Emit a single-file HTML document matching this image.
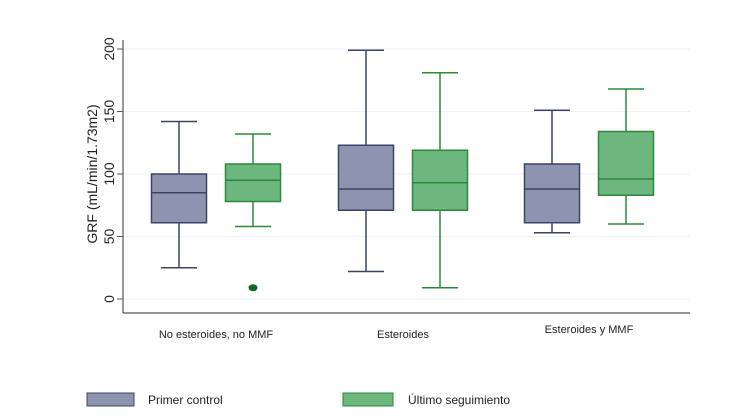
<!DOCTYPE html>
<html><head><meta charset="utf-8"><style>
body{margin:0;background:#fff;}
svg{display:block;font-family:"Liberation Sans",sans-serif;}
</style></head><body>
<svg width="737" height="420">
<g id="grid"></g><g id="plot"></g>
<text transform="translate(97,174) rotate(-90)" text-anchor="middle" font-size="14" fill="#222">GRF (mL/min/1.73m2)</text>
<rect x="87" y="393" width="47" height="13" fill="#8e93b0" stroke="#3c4466"/>
<text x="148" y="404" font-size="12" fill="#222">Primer control</text>
<rect x="343" y="393" width="50" height="13" fill="#6db77f" stroke="#2a8a3a"/>
<text x="408" y="404" font-size="12" fill="#222">Último seguimiento</text>
</svg>
<script>
const categories=["No esteroides, no MMF","Esteroides","Esteroides y MMF"];
const primerStats=[[25,61,85,100,142],[22,71,88,123,199],[53,61,88,108,151]];
const ultimoStats=[[58,78,95,108,132],[9,71,93,119,181],[60,83,96,134,168]];
const ultimoOutliers=[[9],[],[]];
const yTicks=[0,50,100,150,200];
const NS="http://www.w3.org/2000/svg";
const svg=document.querySelector('svg'),grid=document.getElementById('grid'),plot=document.getElementById('plot');
function y(v){return 299-v*1.25;}
const groupCenter=[216,403,589];
function mk(tag,attrs,parent){const e=document.createElementNS(NS,tag);for(const k in attrs)e.setAttribute(k,attrs[k]);parent.appendChild(e);return e;}
yTicks.forEach(t=>{
  const g=mk('line',{x1:123,x2:690,y1:y(t),y2:y(t),stroke:'#eef0f3','stroke-width':1},grid);
  
  
  const tk=mk('line',{x1:117,x2:123,y1:y(t),y2:y(t),stroke:'#555'},grid);
  
  
  const tx=mk('text',{transform:`translate(114,${y(t)}) rotate(-90)`,'text-anchor':'middle','font-size':14,fill:'#222'},grid);
  tx.textContent=t;
  
  
});
const ax=mk('line',{x1:123,x2:123,y1:40,y2:313,stroke:'#555','stroke-width':1.2},grid);


const bx=mk('line',{x1:123,x2:690,y1:313,y2:313,stroke:'#555','stroke-width':1.2},grid);


function box(cx,s,fill,stroke,name){
  const g=mk('g',{},plot);
  
  
  const w=55,c=18;
  mk('line',{x1:cx,x2:cx,y1:y(s[4]),y2:y(s[3]),stroke:stroke,'stroke-width':1.5},g);
  mk('line',{x1:cx,x2:cx,y1:y(s[1]),y2:y(s[0]),stroke:stroke,'stroke-width':1.5},g);
  mk('line',{x1:cx-c,x2:cx+c,y1:y(s[4]),y2:y(s[4]),stroke:stroke,'stroke-width':1.5},g);
  mk('line',{x1:cx-c,x2:cx+c,y1:y(s[0]),y2:y(s[0]),stroke:stroke,'stroke-width':1.5},g);
  mk('rect',{x:cx-w/2,y:y(s[3]),width:w,height:y(s[1])-y(s[3]),fill:fill,stroke:stroke,'stroke-width':1.5},g);
  mk('line',{x1:cx-w/2,x2:cx+w/2,y1:y(s[2]),y2:y(s[2]),stroke:stroke,'stroke-width':1.5},g);
}
categories.forEach((c,i)=>{
  const gc=groupCenter[i];
  box(gc-37,primerStats[i],'#8e93b0','#3c4466','box-primer-'+i);
  box(gc+37,ultimoStats[i],'#6db77f','#2a8a3a','box-ultimo-'+i);
  ultimoOutliers[i].forEach(o=>{
    const p=mk('ellipse',{cx:gc+37,cy:y(o),rx:4.5,ry:3.5,fill:'#0f6b1e'},plot);
    
    
  });
  const t=mk('text',{x:gc,y:i==2?333:338,'text-anchor':'middle','font-size':11,fill:'#222'},plot);
  t.textContent=c;
  
  
});
</script>
</body></html>
